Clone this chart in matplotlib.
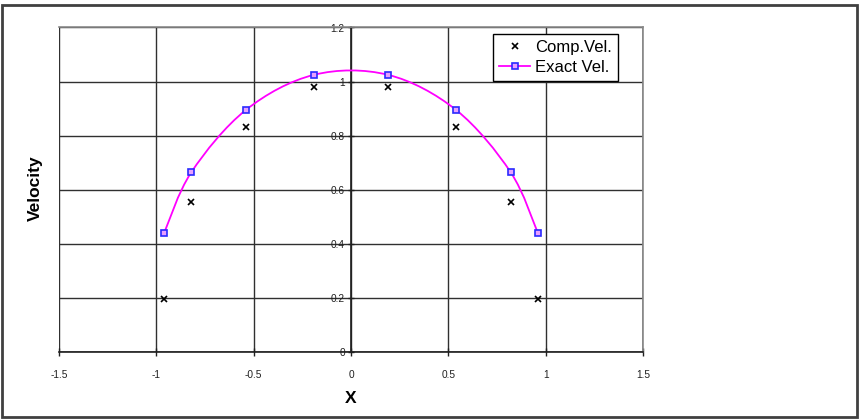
import numpy as np
import matplotlib
matplotlib.use("Agg")
import matplotlib.pyplot as plt
from matplotlib.path import Path
from matplotlib.patches import PathPatch, Rectangle
from matplotlib.lines import Line2D
from matplotlib.ticker import FormatStrFormatter

plt.rcParams["font.family"] = ["Liberation Sans", "DejaVu Sans"]

# data
x_pos = [-0.96, -0.82, -0.54, -0.19, 0.19, 0.54, 0.82, 0.96]
comp_vel = [0.195, 0.555, 0.832, 0.98, 0.98, 0.832, 0.555, 0.195]
exact_vel = [0.44, 0.665, 0.895, 1.025, 1.025, 0.895, 0.665, 0.44]

x_ticks = [-1.5, -1, -0.5, 0, 0.5, 1, 1.5]
y_ticks = [0, 0.2, 0.4, 0.6, 0.8, 1.0, 1.2]

fig = plt.figure(figsize=(8.61, 4.19), dpi=100)
ax = fig.add_axes([59 / 861, 67 / 419, 584 / 861, 324.5 / 419])

ax.set_xlim(-1.5, 1.5)
ax.set_ylim(0, 1.2)
ax.set_xticks(x_ticks)
ax.set_yticks(y_ticks)
ax.xaxis.set_major_formatter(FormatStrFormatter("%g"))
ax.yaxis.set_major_formatter(FormatStrFormatter("%g"))
ax.grid(True, color="#303030", linewidth=1.0)
ax.set_axisbelow(True)

# frame in grey, y axis drawn through x = 0 like Excel
for s in ["top", "right"]:
    ax.spines[s].set_color("#8a8a8a")
    ax.spines[s].set_linewidth(1.2)
ax.spines["left"].set_position(("data", 0))
ax.spines["left"].set_color("#202020")
ax.spines["left"].set_linewidth(1.2)
ax.spines["bottom"].set_color("#202020")
ax.spines["bottom"].set_linewidth(1.2)
ax.add_patch(Rectangle((0, 0), 1, 1, transform=ax.transAxes, fill=False,
                       edgecolor="#8a8a8a", linewidth=1.2, zorder=0.5))

ax.tick_params(axis="x", direction="inout", length=6, width=1, pad=10,
               labelsize=7.3, colors="#202020")
ax.tick_params(axis="y", direction="inout", length=5, width=1, pad=2,
               labelsize=7.3, colors="#202020")

# smoothed line (Excel style bezier through the points)
pts = np.column_stack([x_pos, exact_vel])
verts = [pts[0]]
codes = [Path.MOVETO]
n = len(pts)
for i in range(n - 1):
    p_prev = pts[i - 1] if i > 0 else pts[i]
    p_next2 = pts[i + 2] if i + 2 < n else pts[i + 1]
    c1 = pts[i] + (pts[i + 1] - p_prev) / 6
    c2 = pts[i + 1] - (p_next2 - pts[i]) / 6
    verts += [c1, c2, pts[i + 1]]
    codes += [Path.CURVE4] * 3
ax.add_patch(PathPatch(Path(verts, codes), facecolor="none",
                       edgecolor="#ff00ff", linewidth=1.3, zorder=3))

ax.plot(x_pos, exact_vel, linestyle="none", marker="s", markersize=5,
        markerfacecolor="#e8a0ff", markeredgecolor="#2a2aff",
        markeredgewidth=1.2, zorder=4)
ax.plot(x_pos, comp_vel, linestyle="none", marker="x", markersize=4.3,
        color="black", markeredgewidth=1.2, zorder=4)

ax.set_xlabel("X", fontsize=12.5, fontweight="bold", labelpad=8)
fig.text(35 / 861, 1 - 188 / 419, "Velocity", rotation=90, fontsize=12.5,
         fontweight="bold", ha="center", va="center")

handles = [
    Line2D([], [], linestyle="none", marker="x", markersize=4.3, color="black",
           markeredgewidth=1.2),
    Line2D([], [], color="#ff00ff", linewidth=1.3, marker="s", markersize=5,
           markerfacecolor="#e8a0ff", markeredgecolor="#2a2aff",
           markeredgewidth=1.2),
]
leg = ax.legend(handles, ["Comp.Vel.", "Exact Vel."], loc="upper left",
                bbox_to_anchor=(0.743, 0.98), fontsize=12, frameon=True,
                fancybox=False, framealpha=1, edgecolor="black",
                handlelength=1.9, handletextpad=0.3, borderpad=0.35,
                labelspacing=0.3, borderaxespad=0)
leg.get_frame().set_linewidth(1.0)

# outer border of the chart
fig.patches.append(Rectangle((0.002, 0.004), 0.993, 0.985,
                             transform=fig.transFigure, fill=False,
                             edgecolor="#404040", linewidth=2))

fig.savefig("out.png", dpi=100)
print("done")
